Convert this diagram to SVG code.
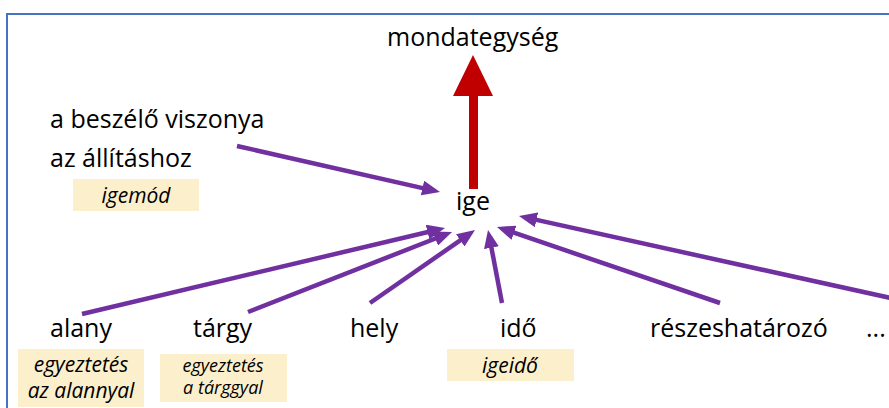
<svg xmlns="http://www.w3.org/2000/svg" width="889" height="408" viewBox="0 0 889 408">
<defs>
<style>
.t{font-family:"Open Sans","Noto Sans",sans-serif;font-size:25px;fill:#000}
.i{font-family:"Open Sans","Noto Sans",sans-serif;font-style:italic;font-size:21px;fill:#000;text-anchor:middle}
.s{font-size:18px}
.box{fill:#FCEFCB}
.c{stroke:#7030A0;stroke-width:4.5;fill:none;marker-end:url(#ah)}
</style>
<marker id="ah" viewBox="0 0 18 15" refX="7" refY="7.5" markerWidth="18" markerHeight="15" markerUnits="userSpaceOnUse" orient="auto">
<path d="M0,0 L18,7.5 L0,15 z" fill="#7030A0"/>
</marker>
</defs>
<rect x="0" y="0" width="889" height="408" fill="#fff"/>
<rect x="7" y="14" width="900" height="420" fill="none" stroke="#4472C4" stroke-width="2"/>

<g id="mondategyseg"><text class="t" x="387" y="46">mondategység</text></g>
<g id="red-arrow">
<polygon points="473,55 453,96 493,96" fill="#C00000"/>
<rect x="469" y="94" width="9" height="95" fill="#C00000"/>
</g>
<g id="beszelo">
<text class="t" x="50" y="128">a beszélő viszonya</text>
<text class="t" x="50" y="167">az állításhoz</text>
</g>
<g id="igemod"><rect class="box" x="73" y="179" width="126" height="32"/><text class="i" x="136" y="203">igemód</text></g>
<g id="ige"><text class="t" x="456" y="210">ige</text></g>

<g id="alany"><text class="t" x="50" y="337">alany</text></g>
<g id="alany-box"><rect class="box" x="18" y="349" width="126" height="58"/>
<text class="i" x="81" y="372">egyeztetés</text><text class="i" x="81" y="398">az alannyal</text></g>
<g id="targy"><text class="t" x="193" y="337">tárgy</text></g>
<g id="targy-box"><rect class="box" x="160" y="354" width="127" height="48"/>
<text class="i s" x="223" y="372">egyeztetés</text><text class="i s" x="223" y="394">a tárggyal</text></g>
<g id="hely"><text class="t" x="350" y="337">hely</text></g>
<g id="ido"><text class="t" x="500" y="337">idő</text></g>
<g id="igeido"><rect class="box" x="447" y="349" width="127" height="32"/><text class="i" x="510" y="373">igeidő</text></g>
<g id="reszeshatarozo"><text class="t" x="650" y="337">részeshatározó</text></g>
<g id="dots"><text class="t" x="866" y="337">...</text></g>

<g id="connectors">
<line class="c" x1="237" y1="146" x2="429.3" y2="189.6"/>
<line class="c" x1="82" y1="314" x2="434.3" y2="230.5"/>
<line class="c" x1="248" y1="312" x2="441.8" y2="236"/>
<line class="c" x1="370" y1="303" x2="466" y2="236.3"/>
<line class="c" x1="502" y1="303" x2="490.1" y2="240.8"/>
<line class="c" x1="720" y1="303" x2="507.4" y2="230.5"/>
<line class="c" x1="895" y1="299" x2="529.7" y2="218.4"/>
</g>
</svg>
